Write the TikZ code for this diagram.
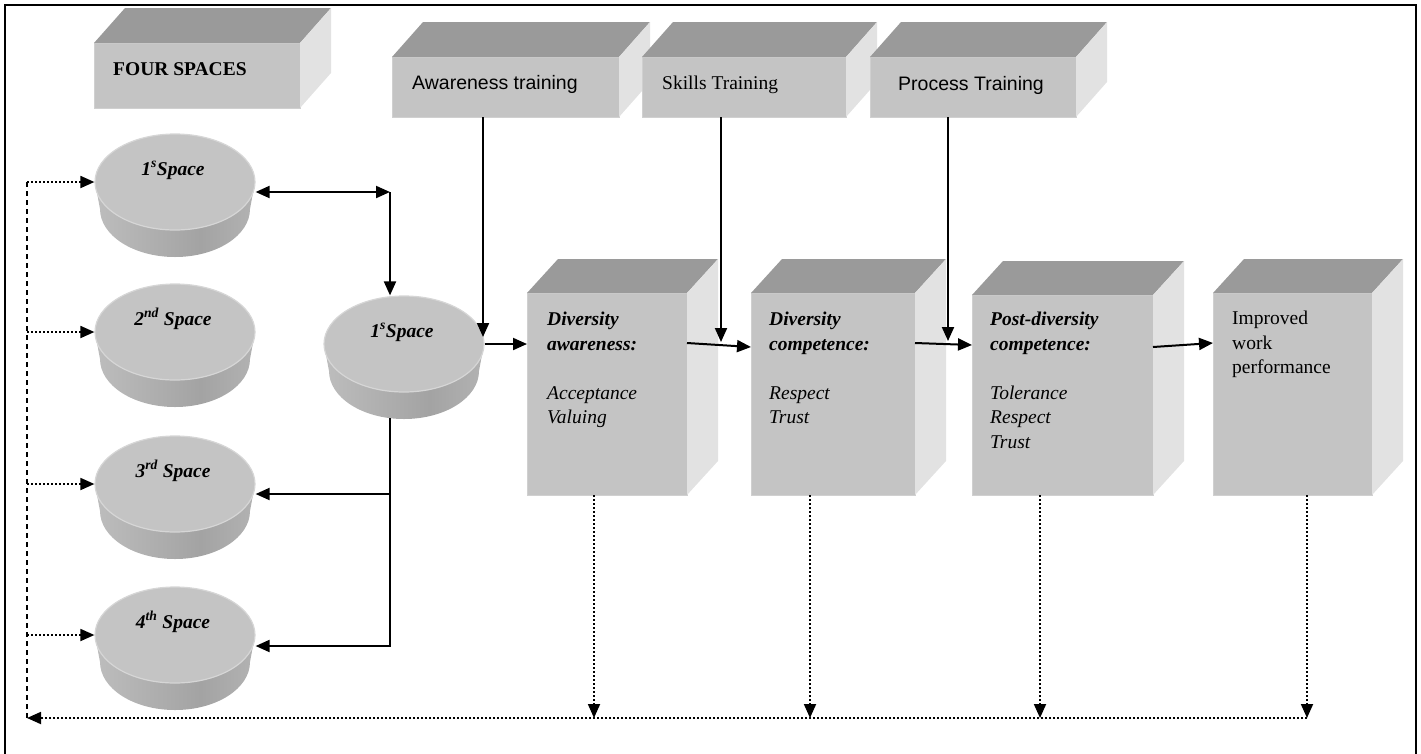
\documentclass[tikz,border=0pt]{standalone}
\usepackage{fontspec}
\setmainfont{Liberation Serif}
\newfontfamily\arialfont{Liberation Sans}
\usetikzlibrary{arrows.meta,shapes.geometric,calc}

\definecolor{facefront}{HTML}{C4C4C4}
\definecolor{facerim}{HTML}{D0D0D0}
\definecolor{facetop}{HTML}{9A9A9A}
\definecolor{faceside}{HTML}{E2E2E2}
\definecolor{diskrim}{HTML}{D6D6D6}
\definecolor{diskA}{HTML}{D4D4D4}
\definecolor{diskB}{HTML}{BDBDBD}
\definecolor{diskC}{HTML}{A3A3A3}
\definecolor{diskD}{HTML}{B9B9B9}
\definecolor{diskE}{HTML}{D2D2D2}
\pgfdeclarehorizontalshading{diskside}{100bp}{color(0bp)=(diskA); color(25bp)=(diskB); color(58bp)=(diskC); color(82bp)=(diskD); color(100bp)=(diskE)}

% top and right faces of a box whose front face is the node #1
\newcommand\cuboidfaces[3]{%
  \fill[facetop] (#1.north west) -- ++(#2,#3) -- ($(#1.north east)+(#2,#3)$) -- (#1.north east) -- cycle;
  \fill[faceside] (#1.north east) -- ++(#2,#3) -- ($(#1.south east)+(#2,#3)$) -- (#1.south east) -- cycle;
}

% a flat disc: shaded side, top face node #1 at (#2,#3), label #4
\newcommand\spacedisk[4]{%
  \shade[shading=diskside] (#2-80,#3) -- (#2-75,#3+27)
     arc[start angle=180,end angle=0,x radius=75,y radius=48]
     -- (#2+80,#3) arc[start angle=0,end angle=180,x radius=80,y radius=48] -- cycle;
  \node[disktop] (#1) at (#2,#3) {};
  \node[disklabel] (#1-text) at (#2-2,#3-7) {#4};
}

\tikzset{
  front/.style={fill=facefront, draw=facerim, line width=0.8pt, anchor=north west, inner sep=0pt, outer sep=0pt},
  disktop/.style={ellipse, fill=facefront, draw=diskrim, line width=1.2pt, minimum width=160pt, minimum height=96pt, inner sep=0pt},
  disklabel/.style={anchor=base, inner sep=0pt, font=\fontsize{19.5}{24}\selectfont\bfseries\itshape},
  sanslabel/.style={anchor=base west, inner sep=0pt, font=\arialfont\fontsize{19.5}{24}\selectfont},
  seriflabel/.style={anchor=base west, inner sep=0pt, font=\fontsize{19.5}{24}\selectfont},
  headlabel/.style={anchor=base west, inner sep=0pt, font=\fontsize{19.5}{24}\selectfont\bfseries},
  boxtextit/.style={anchor=north west, inner sep=0pt, align=left, font=\fontsize{19.5}{24.5}\selectfont\itshape},
  boxtextup/.style={anchor=north west, inner sep=0pt, align=left, font=\fontsize{19.5}{24.5}\selectfont},
  link/.style={line width=2pt, -{Triangle[length=14pt,width=12pt]}},
  biarrow/.style={line width=2pt, {Triangle[length=14pt,width=12pt]}-{Triangle[length=14pt,width=12pt]}},
  dotlink/.style={line width=1.8pt, dash pattern=on 1.8pt off 2.2pt, -{Triangle[length=14pt,width=12pt]}},
  busline/.style={line width=1.8pt, dash pattern=on 5pt off 4pt},
}

\begin{document}
\begin{tikzpicture}[x=1pt,y=-1pt]
\useasboundingbox (0,0) rectangle (1421,753);
\clip (0,0) rectangle (1421,753);
\draw[line width=2pt] (5,5) rectangle (1416,800);

% heading boxes
\node[front, minimum width=206pt, minimum height=65pt] (fourbox) at (94,43) {};
\cuboidfaces{fourbox}{31}{-35}
\node[headlabel] (fourtext) at ($(fourbox.west)+(19,0)$) {FOUR SPACES};

\node[front, minimum width=227pt, minimum height=60pt] (awtrain) at (392,57) {};
\cuboidfaces{awtrain}{31}{-35}
\node[sanslabel] (awtraintext) at ($(awtrain.west)+(20,2)$) {Awareness training};

\node[front, minimum width=204pt, minimum height=60pt] (sktrain) at (642,57) {};
\cuboidfaces{sktrain}{31}{-35}
\node[seriflabel] (sktraintext) at ($(sktrain.west)+(20,2)$) {Skills Training};

\node[front, minimum width=206pt, minimum height=60pt] (prtrain) at (870,57) {};
\cuboidfaces{prtrain}{31}{-35}
\node[sanslabel] (prtraintext) at ($(prtrain.west)+(28,3)$) {Process Training};

% stage boxes
\node[front, minimum width=160pt, minimum height=202pt] (awbox) at (527,293) {};
\cuboidfaces{awbox}{31}{-34}
\node[boxtextit] (awtext) at ($(awbox.north west)+(20,19)$)
  {\textbf{Diversity}\\\textbf{awareness:}\\[24.5pt]Acceptance\\Valuing};

\node[front, minimum width=164pt, minimum height=202pt] (dcbox) at (751,293) {};
\cuboidfaces{dcbox}{31}{-34}
\node[boxtextit] (dctext) at ($(dcbox.north west)+(18,19)$)
  {\textbf{Diversity}\\\textbf{competence:}\\[24.5pt]Respect\\Trust};

\node[front, minimum width=181pt, minimum height=200pt] (pdbox) at (972,295) {};
\cuboidfaces{pdbox}{31}{-34}
\node[boxtextit] (pdtext) at ($(pdbox.north west)+(18,17)$)
  {\textbf{Post-diversity}\\\textbf{competence:}\\[24.5pt]Tolerance\\Respect\\Trust};

\node[front, minimum width=159pt, minimum height=202pt] (impbox) at (1213,293) {};
\cuboidfaces{impbox}{31}{-34}
\node[boxtextup] (imptext) at ($(impbox.north west)+(19,18)$)
  {Improved\\work\\performance};

% the four spaces and the hub disc
\spacedisk{sone}{175}{182}{1\textsuperscript{s}Space}
\spacedisk{stwo}{175}{332}{2\textsuperscript{nd} Space}
\spacedisk{sthree}{175}{484}{3\textsuperscript{rd} Space}
\spacedisk{sfour}{175}{635}{4\textsuperscript{th} Space}
\spacedisk{hub}{404}{344}{1\textsuperscript{s}Space}

% feedback bus on the left
\coordinate (busTop) at (27,182);
\coordinate (busBot) at (27,718);
\draw[busline] (busTop) -- (busBot);
\foreach \s in {sone,stwo,sthree,sfour}
  \draw[dotlink] (busTop |- \s.west) -- (\s.west);

% first space to hub and hub to third and fourth spaces
\coordinate (hubTurn) at (390,192);
\draw[biarrow] (sone.east |- hubTurn) -- (hubTurn);
\draw[link] (hubTurn) -- (hubTurn |- hub.north);
\coordinate (hubFoot) at (390,418);
\coordinate (teeThree) at (390,494);
\coordinate (teeFour) at (390,646);
\draw[link] (hubFoot) -- (teeFour) -- (sfour.east |- teeFour);
\draw[link] (teeThree) -- (sthree.east |- teeThree);

% main flow
\draw[link] (hub.east) -- (awbox.west |- hub.east);
\draw[link] ($(awbox.north east)+(0,50)$) -- ($(dcbox.north west)+(0,54)$);
\draw[link] ($(dcbox.north east)+(0,50)$) -- ($(pdbox.north west)+(0,50)$);
\draw[link] ($(pdbox.north east)+(0,52)$) -- ($(impbox.north west)+(0,50)$);

% training inputs
\coordinate (awDrop) at (483,337);
\coordinate (skDrop) at (721,342);
\coordinate (prDrop) at (948,341);
\draw[link] (awtrain.south -| awDrop) -- (awDrop);
\draw[link] (sktrain.south -| skDrop) -- (skDrop);
\draw[link] (prtrain.south -| prDrop) -- (prDrop);

% outputs back to the bus
\coordinate (awOut) at (594,718);
\coordinate (dcOut) at (810,718);
\coordinate (pdOut) at (1040,718);
\coordinate (impOut) at (1307,718);
\foreach \b/\o in {awbox/awOut, dcbox/dcOut, pdbox/pdOut, impbox/impOut}
  \draw[dotlink] (\b.south -| \o) -- (\o);
\draw[dotlink] (impOut) -- (busBot);
\end{tikzpicture}
\end{document}
